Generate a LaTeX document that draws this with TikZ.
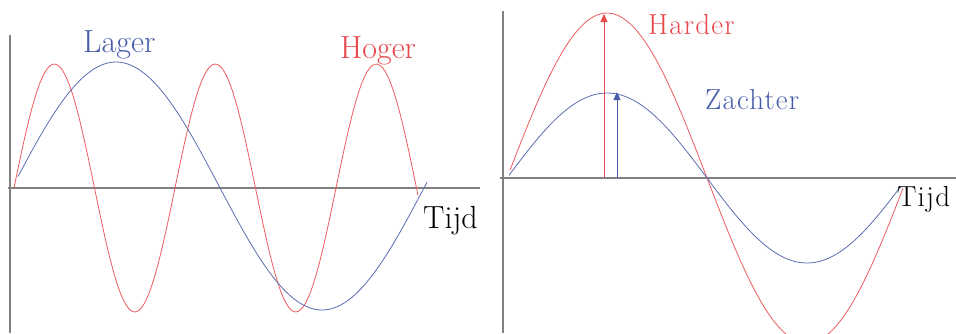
\documentclass[tikz,border=0pt]{standalone}
\usepackage{tikz}
\usepackage{fontspec}
\usetikzlibrary{arrows.meta,positioning}
\newfontfamily\widefont[LetterSpace=4]{Latin Modern Roman}
\definecolor{RedMain}{RGB}{232,72,76}
\definecolor{BlueMain}{RGB}{72,92,170}
\definecolor{AxisGray}{RGB}{128,128,128}

\begin{document}
\begin{tikzpicture}[
  x=1pt, y=-1pt,
  axis/.style={draw=AxisGray, line width=1.6pt},
  redwave/.style={draw=RedMain!90, line width=0.8pt},
  bluewave/.style={draw=BlueMain!90, line width=0.8pt},
  bigtxt/.style={font=\fontsize{32}{36}\selectfont, inner sep=0pt, anchor=base west},
  smalltxt/.style={font=\widefont\fontsize{29}{33}\selectfont, inner sep=0pt, anchor=base west},
  ampl/.style={-{Triangle[length=8pt,width=7pt]}, line width=0.9pt}
]
\useasboundingbox (0,0) rectangle (956,333);
\clip (0,0) rectangle (956,333);

% ---- Left: pitch ----
\draw[axis] (10,35) -- (10,333);
\draw[axis] (8,188) -- (480,188);
\draw[redwave]  plot[domain=14:418, samples=160] (\x, {188 - 124*sin((\x-14)/161*360)});
\draw[bluewave] plot[domain=18:427, samples=120] (\x, {186 - 124*sin((\x-13)/412*360)});

\node[bigtxt, text=BlueMain] (lager) at (83,52)  {Lager};
\node[bigtxt, text=RedMain]  (hoger) at (340,58) {Hoger};
\node[bigtxt]                (tijdA) at (423,228) {Tijd};

% ---- Right: loudness ----
\draw[axis] (503,11) -- (503,333);
\draw[axis] (500,178) -- (956,178);
\draw[redwave]  plot[domain=510:903, samples=120] (\x, {178 - 165*sin((\x-507)/400*360)});
\draw[bluewave] plot[domain=509:901, samples=120] (\x, {178 - 85*sin((\x-507)/400*360)});

\coordinate (redbase)  at (604,178);
\coordinate (redtop)   at (604,14);
\coordinate (bluebase) at (617,178);
\coordinate (bluetop)  at (617,92);
\draw[ampl, RedMain]  (redbase)  -- (redtop);
\draw[ampl, BlueMain] (bluebase) -- (bluetop);

\node[smalltxt, text=RedMain]  (harder)  at (648,34)  {Harder};
\node[smalltxt, text=BlueMain] (zachter) at (705,109) {Zachter};
\node[smalltxt]                (tijdB)   at (897,206) {Tijd};

\end{tikzpicture}
\end{document}
